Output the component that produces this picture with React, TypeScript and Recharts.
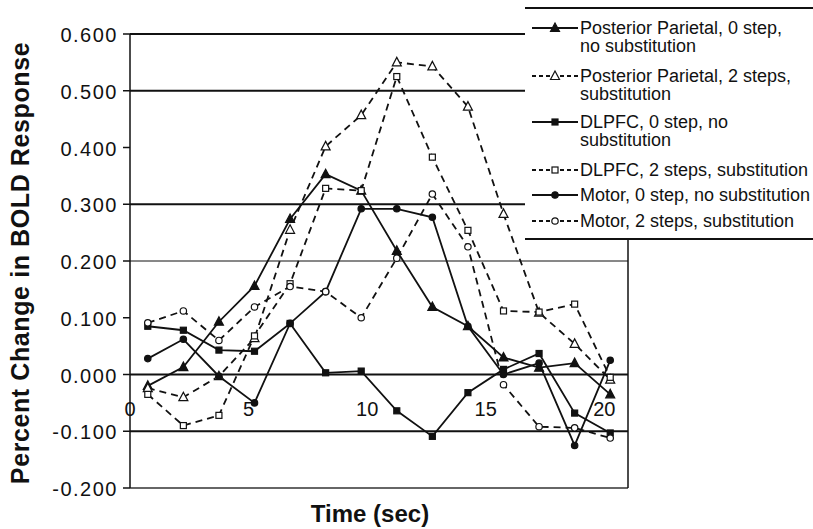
import React from "react";
import { LineChart, Line, XAxis, YAxis, ReferenceLine, Legend } from "recharts";

// sample times (sec), one scan every 1.5 s
const times = [0.75, 2.25, 3.75, 5.25, 6.75, 8.25, 9.75, 11.25, 12.75, 14.25, 15.75, 17.25, 18.75, 20.25];

// percent change in BOLD response per region / condition
const parietalZero = [-0.02, 0.013, 0.093, 0.156, 0.274, 0.353, 0.324, 0.218, 0.119, 0.085, 0.03, 0.012, 0.02, -0.035];
const parietalTwo = [-0.024, -0.04, -0.003, 0.064, 0.255, 0.402, 0.457, 0.55, 0.543, 0.472, 0.283, 0.109, 0.054, -0.009];
const dlpfcZero = [0.085, 0.078, 0.043, 0.041, 0.09, 0.003, 0.006, -0.064, -0.109, -0.032, 0.009, 0.037, -0.068, -0.103];
const dlpfcTwo = [-0.035, -0.09, -0.072, 0.068, 0.16, 0.328, 0.324, 0.525, 0.383, 0.254, 0.112, 0.11, 0.124, -0.005];
const motorZero = [0.028, 0.062, -0.003, -0.05, 0.09, 0.146, 0.292, 0.292, 0.277, 0.085, 0.0, 0.02, -0.125, 0.025];
const motorTwo = [0.091, 0.112, 0.06, 0.119, 0.155, 0.146, 0.1, 0.205, 0.318, 0.225, -0.018, -0.092, -0.094, -0.112];

const yTicks = [-0.2, -0.1, 0, 0.1, 0.2, 0.3, 0.4, 0.5, 0.6];
const xTicks = [0, 5, 10, 15, 20];
const heavyGrid = [0.5, 0.3, 0, -0.1];
const lightGrid = [0.2];

type Shape = "triangle" | "square" | "circle";

interface SeriesDef {
  key: string;
  label: string[];
  values: number[];
  dashed: boolean;
  shape: Shape;
  filled: boolean;
}

const series: SeriesDef[] = [
  { key: "parietalZero", label: ["Posterior Parietal, 0 step,", "no substitution"], values: parietalZero, dashed: false, shape: "triangle", filled: true },
  { key: "parietalTwo", label: ["Posterior Parietal, 2 steps,", "substitution"], values: parietalTwo, dashed: true, shape: "triangle", filled: false },
  { key: "dlpfcZero", label: ["DLPFC, 0 step, no", "substitution"], values: dlpfcZero, dashed: false, shape: "square", filled: true },
  { key: "dlpfcTwo", label: ["DLPFC, 2 steps, substitution"], values: dlpfcTwo, dashed: true, shape: "square", filled: false },
  { key: "motorZero", label: ["Motor, 0 step, no substitution"], values: motorZero, dashed: false, shape: "circle", filled: true },
  { key: "motorTwo", label: ["Motor, 2 steps, substitution"], values: motorTwo, dashed: true, shape: "circle", filled: false },
];

const rows = times.map((t, i) => {
  const row: Record<string, number> = { t };
  series.forEach((s) => {
    row[s.key] = s.values[i];
  });
  return row;
});

const FONT = "'Liberation Sans', Arial, Helvetica, sans-serif";
const INK = "#111";

const Marker = ({ cx, cy, shape, filled }: { cx?: number; cy?: number; shape: Shape; filled: boolean }) => {
  if (cx == null || cy == null) return null;
  const fill = filled ? INK : "#fff";
  if (shape === "triangle") {
    return (
      <polygon
        points={`${cx},${cy - 5} ${cx + 4.5},${cy + 3.5} ${cx - 4.5},${cy + 3.5}`}
        fill={fill}
        stroke={INK}
        strokeWidth={1.2}
      />
    );
  }
  if (shape === "square") {
    return <rect x={cx - 3} y={cy - 3} width={6} height={6} fill={fill} stroke={INK} strokeWidth={1.2} />;
  }
  return <circle cx={cx} cy={cy} r={3.2} fill={fill} stroke={INK} strokeWidth={1.2} />;
};

// legend row offsets from the top of the box
const legendRowTop = [12, 60, 106, 154, 179, 205];

const LegendBox = () => (
  <div
    style={{
      position: "relative",
      width: 288,
      height: 229,
      background: "#fff",
      borderTop: `2px solid ${INK}`,
      borderBottom: `2px solid ${INK}`,
      fontFamily: FONT,
      fontSize: 18,
      lineHeight: "18px",
      color: INK,
    }}
  >
    {series.map((s, i) => (
      <div key={s.key} style={{ position: "absolute", left: 7, top: legendRowTop[i] - 2, display: "flex" }}>
        <svg width={46} height={18} style={{ flex: "none" }}>
          <line
            x1={0}
            y1={9}
            x2={46}
            y2={9}
            stroke={INK}
            strokeWidth={2}
            strokeDasharray={s.dashed ? "4 3" : undefined}
          />
          <Marker cx={23} cy={9} shape={s.shape} filled={s.filled} />
        </svg>
        <div style={{ marginLeft: 2, whiteSpace: "nowrap" }}>
          {s.label.map((line) => (
            <div key={line}>{line}</div>
          ))}
        </div>
      </div>
    ))}
  </div>
);

const YTick = (p: any) => (
  <text
    x={p.x}
    y={p.y}
    dy={8}
    textAnchor="end"
    fontFamily={FONT}
    fontSize={20}
    letterSpacing={1.5}
    fill={INK}
  >
    {Number(p.payload.value).toFixed(3)}
  </text>
);

// time labels sit on the zero line, not under the frame
const XTick = (p: any) => (
  <text x={p.x} y={p.y - 79} dy={7} textAnchor="middle" fontFamily={FONT} fontSize={20} fill={INK}>
    {p.payload.value}
  </text>
);

const YTitle = () => (
  <text
    x={29}
    y={263}
    transform="rotate(-90 29 263)"
    textAnchor="middle"
    fontFamily={FONT}
    fontWeight="bold"
    fontSize={25}
    letterSpacing={0.6}
    fill={INK}
  >
    Percent Change in BOLD Response
  </text>
);

const XTitle = () => (
  <text x={370} y={522} textAnchor="middle" fontFamily={FONT} fontWeight="bold" fontSize={24} fill={INK}>
    Time (sec)
  </text>
);

const App: React.FC = () => {
  return (
    <div style={{ position: "absolute", left: 0, top: 0, width: 813, height: 529, background: "#fff" }}>
      <LineChart width={813} height={529} data={rows} margin={{ top: 34, right: 185, bottom: 11, left: 0 }}>
        <XAxis
          type="number"
          dataKey="t"
          domain={[0, 21]}
          ticks={xTicks}
          axisLine={false}
          tickLine={false}
          tickSize={0}
          tickMargin={0}
          height={30}
          tick={<XTick />}
          label={<XTitle />}
        />
        <YAxis
          type="number"
          domain={[-0.2, 0.6]}
          ticks={yTicks}
          width={130}
          axisLine={{ stroke: INK, strokeWidth: 1.5 }}
          tickLine={{ stroke: INK, strokeWidth: 1.5 }}
          tickSize={7}
          tickMargin={5}
          tick={<YTick />}
          label={<YTitle />}
        />
        {heavyGrid.map((v) => (
          <ReferenceLine key={`g${v}`} y={v} stroke={INK} strokeWidth={2} />
        ))}
        {lightGrid.map((v) => (
          <ReferenceLine key={`l${v}`} y={v} stroke={INK} strokeWidth={1} />
        ))}
        <ReferenceLine y={0.6} stroke={INK} strokeWidth={2} />
        <ReferenceLine y={-0.2} stroke="#333" strokeWidth={1.5} />
        <ReferenceLine x={21} stroke={INK} strokeWidth={1.5} />
        {series.map((s) => (
          <Line
            key={s.key}
            dataKey={s.key}
            name={s.label.join(" ")}
            type="linear"
            stroke={INK}
            strokeWidth={1.8}
            strokeDasharray={s.dashed ? "7 5" : undefined}
            isAnimationActive={false}
            dot={(p: any) => <Marker key={`${s.key}-${p.index}`} cx={p.cx} cy={p.cy} shape={s.shape} filled={s.filled} />}
            activeDot={false}
          />
        ))}
        <Legend
          layout="vertical"
          align="center"
          verticalAlign="middle"
          content={<LegendBox />}
          wrapperStyle={{ position: "absolute", left: 525, top: 7, width: 288, height: 233 }}
        />
      </LineChart>
    </div>
  );
};

export default App;
